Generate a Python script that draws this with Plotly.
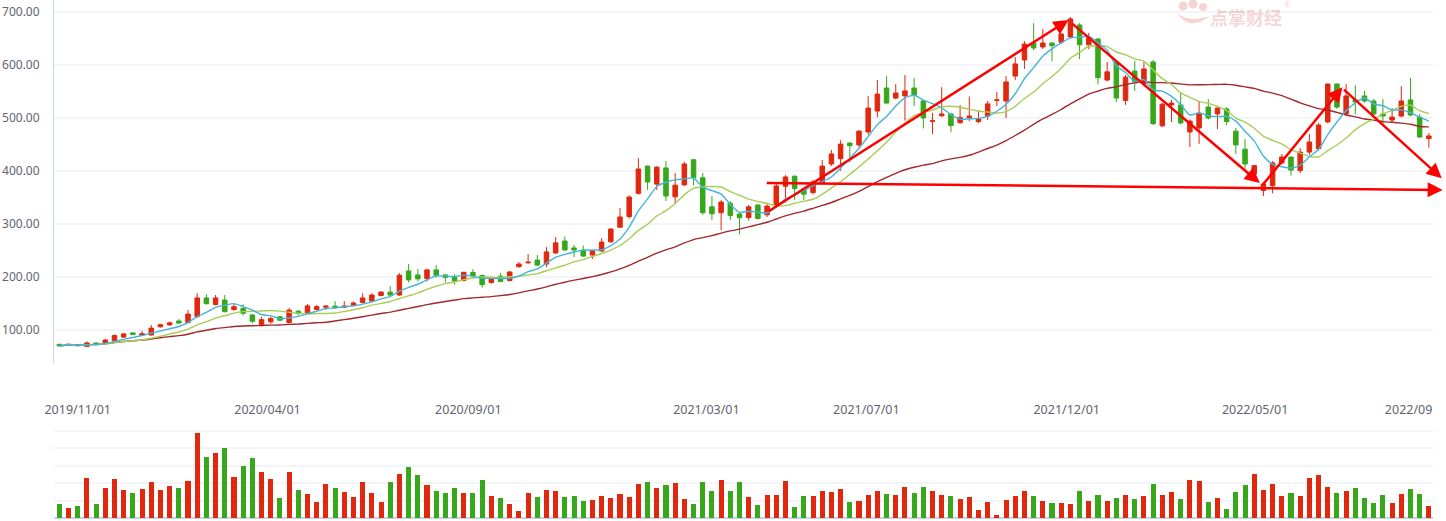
import pandas as pd
import plotly.graph_objects as go

# weekly candles, oldest first (red = up, green = down)
opens = [72.5, 72, 72, 68.5, 75, 74, 79, 86, 94, 89.5,
         90, 105.5, 109, 116.5, 113.5, 125, 160, 147.5, 156, 138,
         140, 128, 110, 115, 124.5, 113.5, 135, 132, 138, 142.5,
         144.5, 142.5, 146, 151.5, 154, 164.5, 171, 165.5, 211, 203.5,
         196.5, 213, 203.5, 200, 193, 208, 202.5, 189, 201, 193,
         219, 226.5, 231.5, 224, 245, 267.5, 254.5, 250.5, 241, 248.5,
         266, 293.5, 313.5, 357.5, 409, 375, 405.5, 351, 373.5, 421,
         387, 332, 321, 339, 318.5, 312, 335.5, 317, 334, 371,
         390, 366, 359, 378, 413, 423, 452.5, 449, 473.5, 513,
         556.5, 537.5, 541.5, 556.5, 532, 493.5, 504, 507.5, 491, 500.5,
         493, 503.5, 533, 532, 579, 609.5, 641.5, 634, 641.5, 643,
         653, 675.5, 638, 649, 571.5, 605.5, 533, 588.5, 564, 605.5,
         485, 524.5, 524.5, 473.5, 481, 520.5, 507.5, 517, 475, 441,
         394, 363, 372, 415, 426, 400.5, 435.5, 442, 492.5, 564,
         507.5, 534, 541.5, 532, 507.5, 496, 503.5, 534, 501.5, 461]
highs = [73, 73, 72.5, 78, 76, 83, 91, 94, 94.5, 98,
         109, 111, 115.5, 120, 137, 169, 167, 165.5, 165.5, 148.5,
         148, 129, 124.5, 125, 126, 141, 137, 148.5, 147, 146.5,
         154, 154, 153.5, 169, 169, 173, 182.5, 207, 224, 214.5,
         214.5, 222, 205, 205, 209, 214.5, 204, 199, 207, 211,
         228, 243, 241, 256, 275, 276, 260, 259, 250, 273,
         292, 330, 354, 424, 410, 409, 418.5, 396, 417, 422,
         396, 352.5, 345, 343, 320, 335.5, 337, 337, 375, 392,
         391, 368, 383, 420.5, 439.5, 458, 454, 477, 541, 571.5,
         579, 564, 581, 575.5, 534, 509.5, 558, 510, 524.5, 540.5,
         513, 532, 549, 579, 615, 645, 679, 668, 642, 660,
         690.5, 679, 660.5, 651, 605.5, 607, 581, 607.5, 605.5, 609.5,
         528, 534, 547, 497, 532, 535.5, 520, 520.5, 481, 460,
         410, 379.5, 418.5, 432, 427, 443, 469.5, 490.5, 565, 565,
         564, 562, 551, 535.5, 535.5, 518.5, 560, 575.5, 507.5, 471.5]
lows = [69, 71, 69, 68, 73, 73, 78, 85, 90, 88.5,
        89, 104, 107.5, 112, 112, 122, 148, 146, 133, 136,
        127, 112, 106, 111, 116.5, 112, 127, 131, 137, 137.5,
        140, 141, 145, 150, 152, 163, 163, 164, 189, 191,
        191, 198, 189, 185, 191, 199, 179.5, 187, 190, 191,
        217, 224, 220, 218, 243, 249, 237, 238, 233.5, 247,
        264, 292, 310, 355, 364, 364, 343, 337, 372, 373,
        317, 307, 288, 307, 280, 306, 308, 313, 330, 340,
        345, 345, 356, 375, 409, 400, 417, 445, 468, 501.5,
        527, 535, 495, 522.5, 480, 469.5, 502, 473, 489, 494,
        490, 496, 522.5, 500, 571.5, 592.5, 628, 630, 607.5, 640,
        650, 611, 630, 563, 569, 530, 524.5, 551, 560, 487,
        483, 492, 488, 445, 451, 497, 479, 486.5, 432, 403.5,
        383, 352.5, 357.5, 412, 391, 395.5, 430, 438, 490, 517,
        505, 507, 529, 505, 488.5, 490.5, 501, 503, 462, 444]
closes = [69.5, 72.5, 69.5, 75, 73.5, 80.5, 89, 92, 91, 92.5,
          103, 109.5, 113, 112.5, 129.5, 160, 149, 160, 134, 143.5,
          131, 116, 119, 121, 118, 137, 130.5, 145, 143.5, 144.5,
          142, 144.5, 150.5, 160, 165.5, 171, 165.5, 203, 194, 196,
          213, 203, 198.5, 192, 208.5, 202, 185, 197.5, 191, 209,
          224, 227.5, 222, 247, 264, 250.5, 250.5, 239, 249, 265.5,
          290, 313, 350.5, 403.5, 379, 407, 352.5, 373, 413, 387,
          321, 319, 341, 315.5, 311.5, 332, 310, 333.5, 371.5, 388.5,
          366.5, 356, 379, 409, 432, 450.5, 447.5, 475, 518.5, 545,
          528, 547, 551, 543, 500, 494.5, 507.5, 485.5, 501, 503.5,
          498, 526.5, 534, 568, 602, 639.5, 632, 641.5, 636.5, 658.5,
          687, 638, 651, 576, 587, 537.5, 577, 568, 592.5, 489,
          526, 528, 490.5, 494, 509, 500, 518.5, 493, 449, 413,
          410, 375, 415, 426, 401.5, 435.5, 454.5, 486.5, 564, 520.5,
          541.5, 530, 532, 507.5, 503.5, 501.5, 532, 505.5, 464, 466]
volumes = [0.79, 0.56, 0.67, 2.29, 0.79, 1.71, 2.23, 1.60, 1.42, 1.65,
           2.06, 1.60, 1.83, 1.71, 2.12, 4.83, 3.50, 3.73, 4.02, 2.35,
           2.98, 3.44, 2.63, 2.23, 1.13, 2.63, 1.60, 1.37, 0.90, 1.94,
           1.71, 1.48, 1.19, 2.06, 1.42, 0.90, 2.06, 2.52, 2.92, 2.46,
           1.88, 1.54, 1.42, 1.71, 1.42, 1.42, 2.17, 1.25, 1.13, 0.79,
           0.38, 1.42, 1.19, 1.60, 1.54, 1.19, 1.25, 0.96, 1.02, 1.25,
           1.13, 1.37, 1.19, 1.94, 2.06, 1.71, 1.88, 2.00, 1.08, 0.79,
           2.06, 1.54, 2.17, 1.54, 2.06, 1.19, 0.73, 1.31, 1.31, 2.12,
           0.62, 1.25, 1.25, 1.54, 1.48, 1.65, 0.90, 0.96, 1.31, 1.54,
           1.37, 1.31, 1.77, 1.42, 1.77, 1.54, 1.31, 1.25, 1.08, 1.19,
           0.44, 0.90, 0.15, 1.02, 1.25, 1.54, 1.25, 0.96, 0.85, 0.85,
           0.79, 1.54, 0.96, 1.31, 0.96, 1.13, 1.31, 1.08, 1.25, 1.94,
           1.31, 1.48, 1.08, 2.17, 2.12, 0.90, 1.13, 0.50, 1.48, 1.88,
           2.52, 1.60, 1.94, 1.25, 1.42, 1.25, 2.29, 2.46, 1.77, 1.42,
           1.54, 1.71, 1.13, 0.85, 1.31, 0.85, 1.37, 1.65, 1.37, 0.67]

date_ticks = [2, 22.65, 44.5, 70.4, 87.8, 109.6, 130.1, 146.8]
date_labels = ['2019/11/01', '2020/04/01', '2020/09/01', '2021/03/01',
               '2021/07/01', '2021/12/01', '2022/05/01', '2022/09']
price_ticks = [100, 200, 300, 400, 500, 600, 700]

# hand-drawn trend arrows: (start week, start price, end week, end price)
arrows = [(76.8, 377, 150.5, 364),
          (77.0, 322, 109.8, 685),
          (110.0, 681, 130.6, 377),
          (130.8, 371, 139.6, 558),
          (139.6, 556, 150.4, 386)]

RED = '#e0280e'
GREEN = '#36a81a'
W, H = 1446, 521
M = dict(l=54, r=13, t=0, b=3)


def px(x, y):
    # pixel position in the page -> paper coordinates
    return (x - M['l']) / (W - M['l'] - M['r']), (H - M['b'] - y) / (H - M['t'] - M['b'])


df = pd.DataFrame({'open': opens, 'high': highs, 'low': lows, 'close': closes, 'vol': volumes})
df['ma5'] = df['close'].rolling(5, min_periods=1).mean()
df['ma10'] = df['close'].rolling(10, min_periods=1).mean()
df['ma30'] = df['close'].rolling(30, min_periods=1).mean()
weeks = list(range(len(df)))

fig = go.Figure()
fig.add_trace(go.Candlestick(
    x=weeks, open=df['open'], high=df['high'], low=df['low'], close=df['close'],
    increasing=dict(line=dict(color=RED, width=1), fillcolor=RED),
    decreasing=dict(line=dict(color=GREEN, width=1), fillcolor=GREEN),
    whiskerwidth=0, showlegend=False, xaxis='x', yaxis='y'))

for col, color in [('ma30', '#a3282c'), ('ma10', '#a9cd55'), ('ma5', '#45b5dc')]:
    fig.add_trace(go.Scatter(x=weeks, y=df[col], mode='lines',
                             line=dict(color=color, width=1.4, shape='spline', smoothing=0.6),
                             showlegend=False, hoverinfo='skip', xaxis='x', yaxis='y'))

vol_colors = [RED if c >= o else GREEN for o, c in zip(df['open'], df['close'])]
fig.add_trace(go.Bar(x=weeks, y=df['vol'], marker=dict(color=vol_colors, line=dict(width=0)),
                     width=0.55, showlegend=False, xaxis='x2', yaxis='y2'))

for x0, y0, x1, y1 in arrows:
    fig.add_annotation(x=x1, y=y1, ax=x0, ay=y0, xref='x', yref='y', axref='x', ayref='y',
                       text='', showarrow=True, arrowhead=2, arrowsize=1.2,
                       arrowwidth=2.5, arrowcolor='#ff0000')

# watermark: logo blobs + name
wm = 'rgba(225,110,110,0.30)'
for cx, cy, r in [(1183, 6, 4.5), (1193, 4, 4.5), (1203, 7, 4)]:
    xa, ya = px(cx - r, cy - r)
    xb, yb = px(cx + r, cy + r)
    fig.add_shape(type='circle', xref='paper', yref='paper', x0=xa, y0=ya, x1=xb, y1=yb,
                  fillcolor=wm, line=dict(width=0))
p1, p2, p3, p4 = px(1177, 13), px(1190, 32), px(1210, 16), px(1189, 23)
fig.add_shape(type='path', xref='paper', yref='paper', fillcolor=wm, line=dict(width=0),
              path=f'M {p1[0]},{p1[1]} Q {p2[0]},{p2[1]} {p3[0]},{p3[1]} '
                   f'Q {p4[0]},{p4[1]} {p1[0]},{p1[1]} Z')
tx, ty = px(1246, 17)
fig.add_annotation(x=tx, y=ty, xref='paper', yref='paper', xanchor='center', yanchor='middle',
                   text='<b>点掌财经</b>', showarrow=False,
                   font=dict(family='Noto Sans CJK SC', size=18, color=wm))
rx, ry = px(1287, 6)
fig.add_annotation(x=rx, y=ry, xref='paper', yref='paper', xanchor='center', yanchor='middle',
                   text='®', showarrow=False,
                   font=dict(family='DejaVu Sans', size=8, color=wm))

axis_font = dict(family='Noto Sans', size=12, color='#5f6470')
fig.update_layout(
    width=W, height=H,
    margin=dict(M, autoexpand=False),
    paper_bgcolor='white', plot_bgcolor='white',
    boxgap=0.3, bargap=0,
    xaxis=dict(domain=[0, 1], range=[-0.58, 149.45], anchor='y', automargin=False,
               showticklabels=False, showgrid=False, zeroline=False, showline=False,
               rangeslider=dict(visible=False)),
    yaxis=dict(domain=[0.2992, 1], range=[37.1, 722.7], tickvals=price_ticks, automargin=False,
               tickformat='.2f', tickfont=axis_font, ticks='outside', ticklen=11,
               tickcolor='rgba(0,0,0,0)', showgrid=True, gridcolor='#f1f4f8', gridwidth=2,
               zeroline=False, showline=True, linecolor='#c6d4ea', linewidth=1),
    xaxis2=dict(domain=[0, 1], range=[-0.58, 149.45], anchor='y2', side='top', automargin=False,
                tickvals=date_ticks, ticktext=date_labels,
                tickfont=dict(axis_font, size=12.5), ticklabelstandoff=-4,
                ticks='', showgrid=False, zeroline=False, showline=False),
    yaxis2=dict(domain=[0, 0.2027], range=[0, 6], tickvals=[1, 2, 3, 4, 5, 6], automargin=False,
                showticklabels=False, showgrid=True, gridcolor='#f1f4f8', gridwidth=2,
                zeroline=True, zerolinecolor='#c6d4ea', zerolinewidth=2, showline=False),
    hovermode=False,
)

# the page body has a default 8px margin; drop it so the chart sits at the window origin
fig.write_html('out.html', config={'displayModeBar': False},
               post_script="document.body.style.margin='0';")
